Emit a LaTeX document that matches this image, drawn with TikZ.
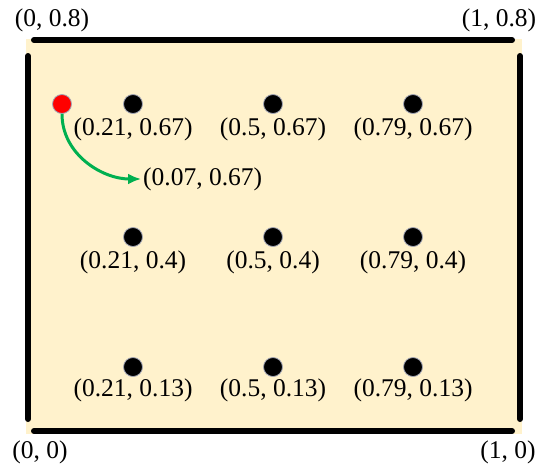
\documentclass[tikz,border=0pt]{standalone}
\usepackage{fontspec}
\setmainfont{Liberation Serif}
\usetikzlibrary{arrows.meta,positioning}
\definecolor{PanelFill}{RGB}{255,242,204}
\definecolor{DotRim}{RGB}{160,164,180}
\definecolor{ArrowGreen}{RGB}{0,176,80}

\begin{document}
\begin{tikzpicture}[x=1pt,y=-1pt,
  dot/.style={circle,fill=black,draw=DotRim,line width=0.8pt,minimum size=19pt,inner sep=0pt},
  seed/.style={dot,fill=red},
  coord/.style={inner sep=0pt,font=\fontsize{25.5}{30}\selectfont},
  edge/.style={line width=6pt,line cap=round},
  arrow/.style={-{Latex[length=13pt,width=11pt]},line width=3pt,ArrowGreen,shorten >=2pt}
]
  \useasboundingbox (0,0) rectangle (545,467);
  \fill[PanelFill] (26,39) rectangle (522,434);
  % frame edges
  \draw[edge] (34,40) -- (512,40);
  \draw[edge] (34,431) -- (512,431);
  \draw[edge] (28,56) -- (28,419);
  \draw[edge] (520,56) -- (520,419);
  % corner labels
  \node[coord] (c01) at (52,20) {(0, 0.8)};
  \node[coord] (c11) at (499,20) {(1, 0.8)};
  \node[coord] (c00) at (40,452) {(0, 0)};
  \node[coord] (c10) at (508,452) {(1, 0)};
  % sample points
  \node[seed] (s0) at (62,104) {};
  \node[dot] (d11) at (133,104) {};
  \node[dot] (d12) at (273,104) {};
  \node[dot] (d13) at (413,104) {};
  \node[dot] (d21) at (133,237) {};
  \node[dot] (d22) at (273,237) {};
  \node[dot] (d23) at (413,237) {};
  \node[dot] (d31) at (133,367) {};
  \node[dot] (d32) at (273,367) {};
  \node[dot] (d33) at (413,367) {};
  \node[coord,below=4pt of d11] (l11) {(0.21, 0.67)};
  \node[coord,below=4pt of d12] (l12) {(0.5, 0.67)};
  \node[coord,below=4pt of d13] (l13) {(0.79, 0.67)};
  \node[coord,below=4pt of d21] (l21) {(0.21, 0.4)};
  \node[coord,below=4pt of d22] (l22) {(0.5, 0.4)};
  \node[coord,below=4pt of d23] (l23) {(0.79, 0.4)};
  \node[coord,below=2pt of d31] (l31) {(0.21, 0.13)};
  \node[coord,below=2pt of d32] (l32) {(0.5, 0.13)};
  \node[coord,below=2pt of d33] (l33) {(0.79, 0.13)};
  \node[coord,anchor=west] (l0) at (143,179) {(0.07, 0.67)};
  \draw[arrow] (s0.south) to[out=-90,in=180] (l0.west);
\end{tikzpicture}
\end{document}
